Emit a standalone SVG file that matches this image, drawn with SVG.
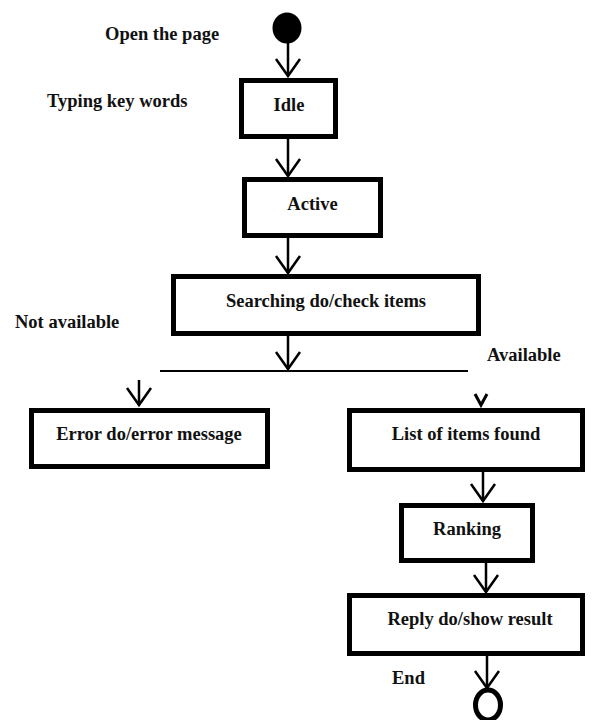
<svg xmlns="http://www.w3.org/2000/svg" width="594" height="720" viewBox="0 0 594 720">
  <style>
    .state { fill: #fff; stroke: #000; stroke-width: 5; }
    .lbl { font-family: "Liberation Serif", "Times New Roman", serif; font-weight: bold; font-size: 18.5px; fill: #111; }
    .mid { text-anchor: middle; }
    .flow { stroke: #000; stroke-width: 2.5; fill: none; marker-end: url(#vhead); }
  </style>
  <defs>
    <marker id="vhead" markerUnits="userSpaceOnUse" markerWidth="40" markerHeight="40" viewBox="-20 -20 40 40" refX="0" refY="0" orient="auto" overflow="visible">
      <path d="M -17,-12 L 0,0 L -17,12" fill="none" stroke="#000" stroke-width="2.5"/>
    </marker>
  </defs>

  <rect width="594" height="720" fill="#fff"/>

  <!-- free-standing transition labels -->
  <text class="lbl" x="105" y="40">Open the page</text>
  <text class="lbl" x="47" y="107">Typing key words</text>
  <text class="lbl" x="15" y="328">Not available</text>
  <text class="lbl" x="487" y="361">Available</text>
  <text class="lbl" x="392" y="684">End</text>

  <g id="start">
    <ellipse cx="287" cy="28" rx="14.5" ry="15.5" fill="#000"/>
  </g>

  <g id="idle">
    <rect class="state" x="241.5" y="80.5" width="94" height="56"/>
    <text class="lbl mid" x="289" y="111">Idle</text>
  </g>

  <g id="active">
    <rect class="state" x="244.5" y="179.5" width="136" height="56"/>
    <text class="lbl mid" x="312.5" y="210">Active</text>
  </g>

  <g id="searching">
    <rect class="state" x="173.5" y="276.5" width="305" height="57"/>
    <text class="lbl mid" x="326" y="307">Searching do/check items</text>
  </g>

  <g id="branch">
    <line x1="160" y1="371" x2="468" y2="371" stroke="#000" stroke-width="2"/>
  </g>

  <g id="error">
    <rect class="state" x="31.5" y="410.5" width="236" height="56"/>
    <text class="lbl mid" x="149" y="440">Error do/error message</text>
  </g>

  <g id="list">
    <rect class="state" x="349.5" y="410.5" width="233" height="59"/>
    <text class="lbl mid" x="466" y="440">List of items found</text>
  </g>

  <g id="ranking">
    <rect class="state" x="401.5" y="505.5" width="131" height="55"/>
    <text class="lbl mid" x="467" y="535">Ranking</text>
  </g>

  <g id="reply">
    <rect class="state" x="349.5" y="595.5" width="233" height="58"/>
    <text class="lbl mid" x="470" y="625">Reply do/show result</text>
  </g>

  <g id="end">
    <ellipse cx="488" cy="705" rx="12.5" ry="15" fill="none" stroke="#000" stroke-width="5"/>
  </g>

  <g id="connectors">
    <line class="flow" x1="288" y1="43" x2="288" y2="76"/>
    <line class="flow" x1="288" y1="139" x2="288" y2="176"/>
    <line class="flow" x1="288" y1="238" x2="288" y2="273"/>
    <line class="flow" x1="288" y1="336" x2="288" y2="369"/>
    <line class="flow" x1="139" y1="380" x2="139" y2="405"/>
    <path d="M 475,394 L 481,405 L 487,394" fill="none" stroke="#000" stroke-width="3"/>
    <line class="flow" x1="483" y1="472" x2="483" y2="501"/>
    <line class="flow" x1="486" y1="563" x2="486" y2="592"/>
    <line class="flow" x1="487" y1="656" x2="487" y2="688"/>
  </g>
</svg>
